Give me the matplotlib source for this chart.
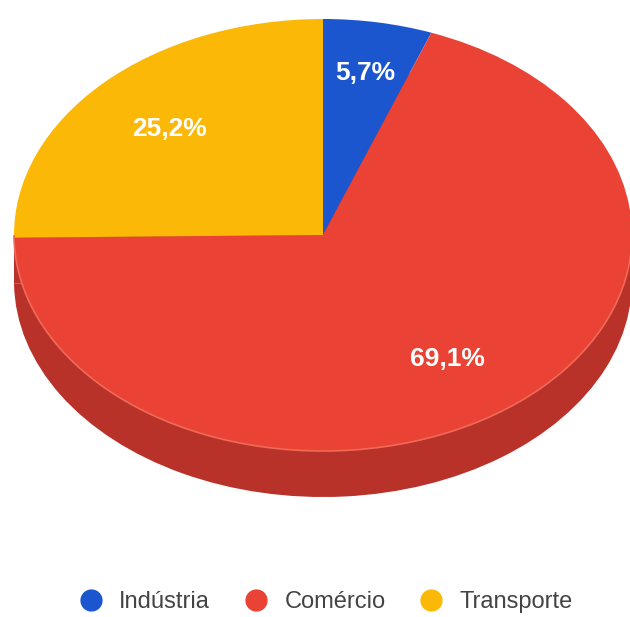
import numpy as np
import matplotlib
matplotlib.use("Agg")
import matplotlib.pyplot as plt
from matplotlib.patches import Rectangle, Arc
from matplotlib.lines import Line2D

# Share of each sector (percent)
categories = ["Indústria", "Comércio", "Transporte"]
values = [5.7, 69.1, 25.2]
top_colors = ["#1b56cf", "#ea4335", "#fbb806"]
side_color = "#b8322a"

W, H, DPI = 630, 617, 100
fig = plt.figure(figsize=(W / DPI, H / DPI), dpi=DPI)
ax = fig.add_axes([0, 0, 1, 1])

# ellipse geometry in pixels (centre, radii, thickness of the disc)
cx, cy, rx, ry, depth = 323.0, 235.0, 309.0, 216.0, 46.0
d = depth / ry

# side wall: a lowered copy of the pie plus the band joining the two faces
lower, _ = ax.pie(values, colors=[side_color] * len(values), startangle=90,
                  counterclock=False, radius=1.0, center=(0, -d),
                  wedgeprops=dict(linewidth=0))
for w in lower:
    w.set_zorder(1)
ax.add_patch(Rectangle((-1, -d), 2, d, facecolor=side_color,
                       edgecolor="none", zorder=1.5))

# top face
wedges, _ = ax.pie(values, colors=top_colors, startangle=90,
                   counterclock=False, radius=1.0, center=(0, 0),
                   wedgeprops=dict(linewidth=0))
for w in wedges:
    w.set_zorder(2)

# faint highlight along the front rim
ax.add_patch(Arc((0, 0), 2, 2, theta1=180, theta2=360,
                 color="#f06a58", lw=1.2, zorder=3))

# percentage labels at the middle of each slice
radial = [0.76, 0.70, 0.70]
for w, v, f in zip(wedges, values, radial):
    mid = np.deg2rad((w.theta1 + w.theta2) / 2)
    ax.text(f * np.cos(mid), f * np.sin(mid),
            f"{v:.1f}%".replace(".", ","),
            ha="center", va="center", color="white",
            fontsize=19, fontweight="bold", family="Liberation Sans",
            zorder=4)

ax.set_aspect("auto")
ax.set_xlim(-cx / rx, (W - cx) / rx)
ax.set_ylim((cy - H) / ry, cy / ry)
ax.axis("off")

# legend
handles = [Line2D([], [], marker="o", linestyle="none", markersize=15,
                  markerfacecolor=c, markeredgecolor=c) for c in top_colors]
leg = fig.legend(handles, categories, ncol=3, loc="center",
                 bbox_to_anchor=(326 / W, 1 - 602 / H), frameon=False,
                 prop=dict(family="Liberation Sans", size=17),
                 handlelength=1.0, handletextpad=0.7, columnspacing=1.45,
                 borderpad=0)
for t in leg.get_texts():
    t.set_color("#444444")

fig.savefig("out.png", dpi=DPI, facecolor="white")
